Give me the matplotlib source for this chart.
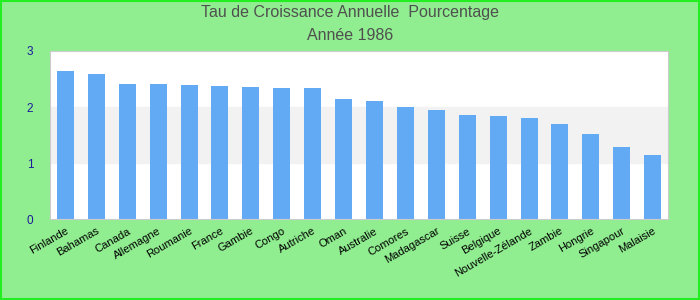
import matplotlib.pyplot as plt
import numpy as np

plt.rcParams['font.family'] = ['Liberation Sans', 'DejaVu Sans']

# data
pays = ['Finlande', 'Bahamas', 'Canada', 'Allemagne', 'Roumanie', 'France', 'Gambie',
        'Congo', 'Autriche', 'Oman', 'Australie', 'Comores', 'Madagascar', 'Suisse',
        'Belgique', 'Nouvelle-Zélande', 'Zambie', 'Hongrie', 'Singapour', 'Malaisie']
taux = [2.64, 2.59, 2.41, 2.41, 2.39, 2.37, 2.36, 2.34, 2.34, 2.14, 2.11, 2.00,
        1.95, 1.86, 1.84, 1.80, 1.70, 1.52, 1.29, 1.14]
yticks = [0, 1, 2, 3]

fig = plt.figure(figsize=(7, 3), dpi=100, facecolor='#90EE90')
ax = fig.add_axes([0.0714, 0.27, 0.883, 0.56])
ax.set_facecolor('white')

# grey band between 1 and 2
ax.axhspan(1, 2, color='#f2f2f2', zorder=0)

x = np.arange(len(pays))
ax.bar(x, taux, width=0.55, color='#63aaf5', zorder=2)

ax.set_xlim(-0.5, len(pays) - 0.5)
ax.set_ylim(0, 3)
ax.set_yticks(yticks)
ax.set_yticklabels([str(v) for v in yticks], color='#1a1a9a', fontsize=8.5)
ax.tick_params(axis='y', length=0, pad=12)
ax.set_xticks(x)
ax.set_xticklabels(pays, rotation=30, ha='right', rotation_mode='anchor', fontsize=8)
ax.tick_params(axis='x', length=0, pad=5)

for s in ax.spines.values():
    s.set_color('#cccccc')

fig.text(0.5, 0.957, 'Tau de Croissance Annuelle  Pourcentage', ha='center', va='center',
         fontsize=11.5, color='#505050')
fig.text(0.5, 0.882, 'Année 1986', ha='center', va='center', fontsize=11.5, color='#505050')

# green frame around the figure
fig.patches.append(plt.Rectangle((0.001, 0.002), 0.997, 0.995, transform=fig.transFigure,
                                 fill=False, edgecolor='#22ee22', linewidth=1.5))

plt.savefig('out.png', dpi=100, facecolor=fig.get_facecolor())
